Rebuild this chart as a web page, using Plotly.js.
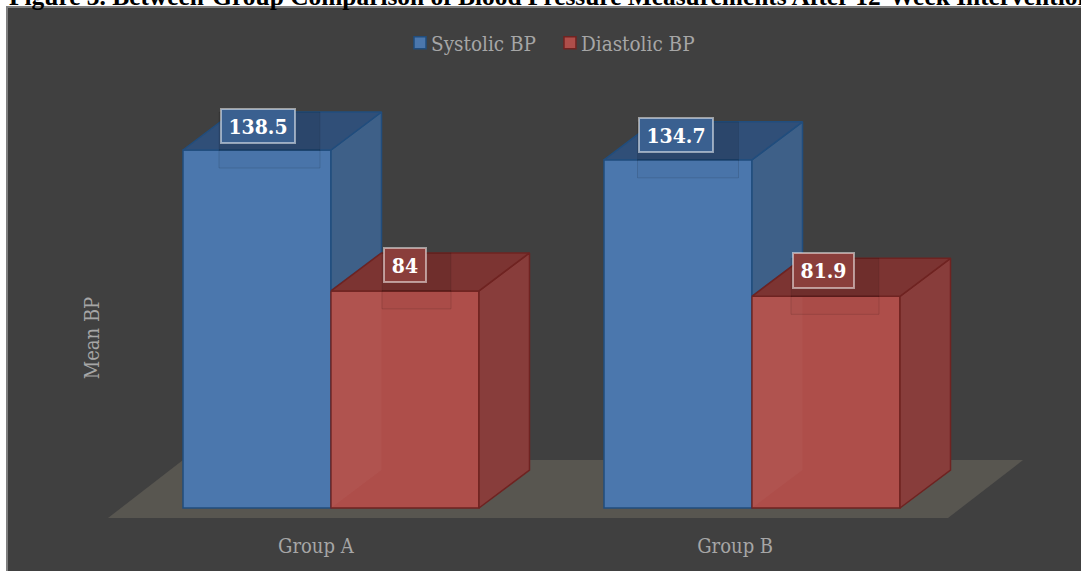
<!DOCTYPE html>
<html>
<head>
<meta charset="utf-8">
<script src="https://cdn.plot.ly/plotly-3.0.1.min.js"></script>
<style>html,body{margin:0;padding:0;background:#fff;overflow:hidden}#chart{width:1081px;height:571px}</style>
</head>
<body>
<div id="chart"></div>
<script>
var groups = [0, 1];
var groupLabels = ["Group A", "Group B"];
var groupLabelPos = [-0.036, 0.96];
var systolic = [138.5, 134.7];
var diastolic = [84, 81.9];
var titleText = "Figure 3. Between-Group Comparison of Blood Pressure Measurements After 12-Week Intervention";

var W = 1081, H = 571;
var M = {l: 106, r: 0, t: 105, b: 0};
var axisBottomPx = 526;
var pxX = 421, pxY = 2.585;
var barW = 148 / pxX, dx = 50.5 / pxX, dy = 38 / pxY;
var serif = '"Liberation Serif", serif';
var textFont = '"DejaVu Serif Condensed", "DejaVu Serif", serif';
var grey = '#a6a6a6';

var C = {
  blue: {front: '#4b77ad', line: '#214d7d', side: '#3e6088', top: '#304f78', box: '#3a6090'},
  red:  {front: '#ae4e4a', line: '#6f2321', side: '#883d3b', top: '#7c3432', box: '#8a3e3b'},
  floor: '#585650', bg: '#404040'
};

function poly(pts, fill, line, width) {
  return {
    type: 'scatter', mode: 'lines', x: pts.map(function (p) { return p[0]; }), y: pts.map(function (p) { return p[1]; }),
    fill: 'toself', fillcolor: fill, line: {color: line, width: width === undefined ? 1.5 : width},
    hoverinfo: 'skip', showlegend: false
  };
}
function bar(name, vals, col) {
  return {type: 'bar', name: name, x: groups, y: vals, marker: {color: col.front, line: {color: col.line, width: 1.5}}};
}
function topFace(xl, v, col) {
  return poly([[xl, v], [xl + barW, v], [xl + barW + dx, v + dy], [xl + dx, v + dy], [xl, v]], col.top, col.line);
}
function sideFace(xr, v, base, col) {
  return poly([[xr, v], [xr + dx, v + dy], [xr + dx, base + dy], [xr, base], [xr, v]], col.side, col.line);
}

var traces = [bar('Systolic BP', systolic, C.blue), bar('Diastolic BP', diastolic, C.red)];
groups.forEach(function (g, i) {
  traces.push(poly([[g, diastolic[i]], [g + dx, diastolic[i]], [g + dx, dy], [g, 0], [g, diastolic[i]]], 'rgba(255,255,255,0.03)', 'rgba(0,0,0,0)', 0));
  traces.push(sideFace(g, systolic[i], diastolic[i], C.blue));
  traces.push(topFace(g - barW, systolic[i], C.blue));
  traces.push(sideFace(g + barW, diastolic[i], 0, C.red));
  traces.push(topFace(g, diastolic[i], C.red));
});

// data labels: outer box size and offset in pixels relative to each bar
var labels = [
  {g: 0, s: 0, t: '138.5', w: 75, h: 35, sx: 0.5, sy: 24.5},
  {g: 1, s: 0, t: '134.7', w: 75, h: 35, sx: -2, sy: 25},
  {g: 0, s: 1, t: '84', w: 43, h: 35, sx: -0.5, sy: 26},
  {g: 1, s: 1, t: '81.9', w: 62, h: 36, sx: -3, sy: 26}
];
var annotations = labels.map(function (l) {
  var v = (l.s === 0 ? systolic : diastolic)[l.g];
  var col = l.s === 0 ? C.blue : C.red;
  var xc = groups[l.g] + (l.s === 0 ? -barW / 2 : barW / 2);
  var left = xc + (l.sx - l.w / 2 - 1) / pxX, right = xc + (l.sx + l.w / 2 + 25) / pxX;
  traces.push(poly([[left, v], [right, v], [right, v - 18 / pxY], [left, v - 18 / pxY], [left, v]], 'rgba(0,0,0,0.02)', 'rgba(0,0,0,0.12)', 1));
  traces.push(poly([[left, v + dy], [right, v + dy], [right, v], [left, v], [left, v + dy]], 'rgba(0,0,0,0.1)', 'rgba(0,0,0,0.08)', 1));
  return {
    x: xc, y: v, xshift: l.sx, yshift: l.sy, text: l.t, showarrow: false,
    xanchor: 'center', yanchor: 'middle', width: l.w - 5, height: l.h - 5, align: 'center', valign: 'middle',
    bgcolor: col.box, bordercolor: 'rgba(255,255,255,0.5)', borderwidth: 2,
    font: {family: textFont, size: 21, color: '#ffffff', weight: 700}
  };
});

var plotW = W - M.l - M.r, plotH = H - M.t - M.b;
var xMin = (M.l - 331) / pxX, xMax = (W - 331) / pxX;
var zeroPx = 150 + systolic[0] * pxY;
var yTop = (zeroPx - M.t) / pxY, yBot = yTop - plotH / pxY;

var floorPath = 'M' + ((108 - 331) / pxX) + ',' + (-10 / pxY) +
  ' L' + ((948 - 331) / pxX) + ',' + (-10 / pxY) +
  ' L' + ((1023 - 331) / pxX) + ',' + (48 / pxY) +
  ' L' + ((183 - 331) / pxX) + ',' + (48 / pxY) + ' Z';

var layout = {
  width: W, height: H, margin: M, autosize: false,
  paper_bgcolor: '#ffffff', plot_bgcolor: 'rgba(0,0,0,0)',
  showlegend: true, barmode: 'group', bargap: 1 - 2 * barW, bargroupgap: 0,
  title: {text: titleText, x: 9 / W, xanchor: 'left', xref: 'container', y: 1 - 5 / H, yref: 'container', yanchor: 'bottom',
    font: {family: serif, size: 25.4, color: '#000000', weight: 700}},
  legend: {orientation: 'h', x: (391 - M.l) / plotW, xanchor: 'left', xref: 'paper',
    y: 1 + (M.t - 43) / plotH, yanchor: 'middle', yref: 'paper',
    bgcolor: 'rgba(0,0,0,0)', font: {family: textFont, size: 20.5, color: grey}, itemclick: false, itemdoubleclick: false},
  xaxis: {range: [xMin, xMax], tickmode: 'array', tickvals: groupLabelPos, ticktext: groupLabels,
    anchor: 'free', position: (H - axisBottomPx) / plotH,
    showgrid: false, zeroline: false, showline: false, ticks: 'outside', ticklen: 2, tickcolor: 'rgba(0,0,0,0)',
    tickfont: {family: textFont, size: 20, color: grey}, fixedrange: true},
  yaxis: {range: [yBot, yTop], showticklabels: false, showgrid: false, zeroline: false, showline: false, ticks: '',
    title: {text: 'Mean BP', standoff: 0, font: {family: textFont, size: 20, color: grey}}, fixedrange: true},
  shapes: [
    {type: 'rect', layer: 'below', xref: 'paper', yref: 'paper', x0: (7 - M.l) / plotW, x1: 1.01, y0: -0.01, y1: 1 + (M.t - 7) / plotH,
      fillcolor: C.bg, line: {color: '#7f7f7f', width: 2}},
    {type: 'path', layer: 'below', xref: 'x', yref: 'y', path: floorPath, fillcolor: C.floor, line: {width: 0}}
  ],
  annotations: annotations
};
Plotly.newPlot('chart', traces, layout, {displayModeBar: false, staticPlot: true}).then(function (gd) {
  gd.querySelectorAll('.legendsymbols').forEach(function (s) { s.setAttribute('transform', 'translate(9,0)'); });
});
</script>
</body>
</html>
